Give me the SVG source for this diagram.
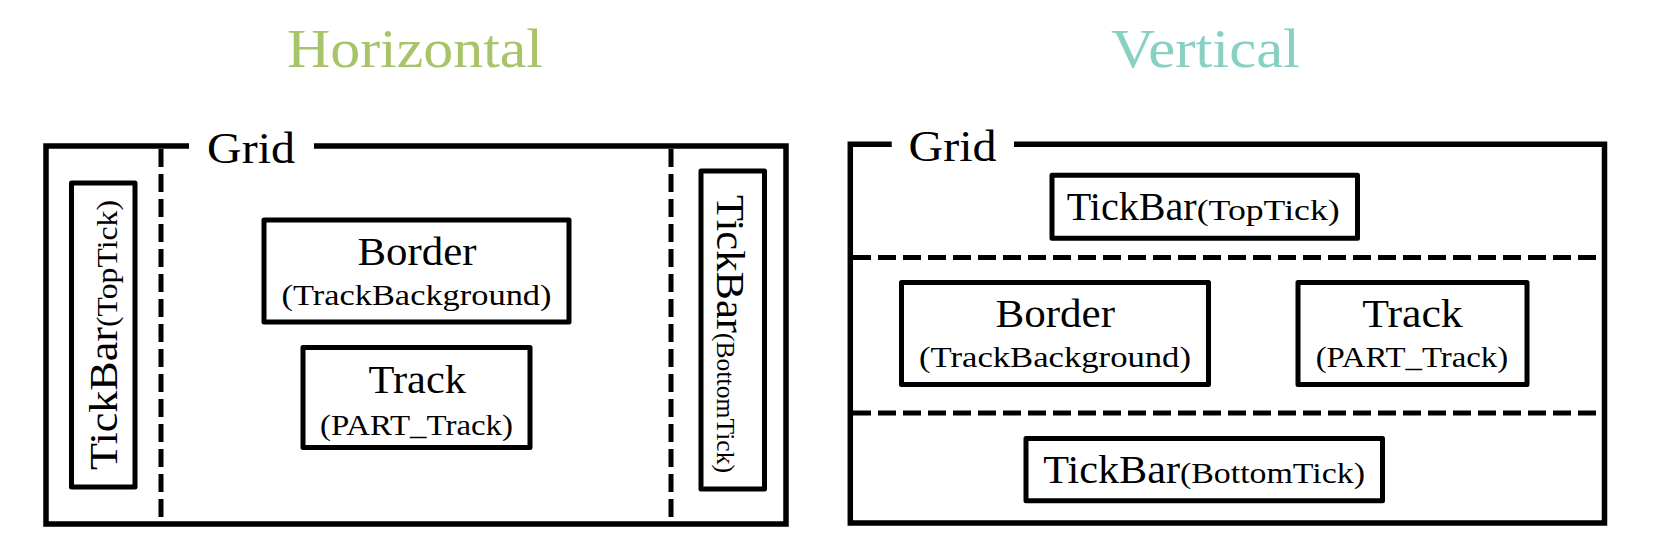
<svg xmlns="http://www.w3.org/2000/svg" width="1659" height="543" viewBox="0 0 1659 543">
<style>
text{font-family:"Liberation Serif","DejaVu Serif",serif;fill:#000}
.title{font-size:54px}
.grid{font-size:44px}
.big{font-size:40px}
.small{font-size:30px}
.frame{fill:none;stroke:#000;stroke-width:5.5;stroke-linejoin:miter}
.box{fill:#fff;stroke:#000;stroke-width:5;stroke-linejoin:round}
.dash{fill:none;stroke:#000;stroke-width:5;stroke-dasharray:18 7}
</style>
<rect width="1659" height="543" fill="#fff"/>

<g id="horizontal">
  <text class="title" x="287" y="66.7" textLength="256" lengthAdjust="spacingAndGlyphs" fill="#a8c468" style="fill:#a8c468">Horizontal</text>
  <g id="h-grid">
    <path class="frame" d="M189,146 H46 V524 H786 V146 H314"/>
    <text class="grid" x="207" y="163" textLength="88" lengthAdjust="spacingAndGlyphs">Grid</text>
  </g>
  <g id="h-dividers">
    <line class="dash" x1="161" y1="149" x2="161" y2="521"/>
    <line class="dash" x1="671" y1="149" x2="671" y2="521"/>
  </g>
  <g id="h-toptick">
    <rect class="box" x="71.5" y="183" width="63.5" height="304"/>
    <g transform="translate(117,470) rotate(-90)">
      <text class="big" x="0" y="0" textLength="143" lengthAdjust="spacingAndGlyphs">TickBar</text>
      <text x="143" y="0" font-size="29" textLength="127" lengthAdjust="spacingAndGlyphs">(TopTick)</text>
    </g>
  </g>
  <g id="h-border">
    <rect class="box" x="264" y="220" width="305" height="102"/>
    <text class="big" x="357.5" y="265" textLength="119" lengthAdjust="spacingAndGlyphs">Border</text>
    <text class="small" x="281.5" y="305" textLength="270" lengthAdjust="spacingAndGlyphs">(TrackBackground)</text>
  </g>
  <g id="h-track">
    <rect class="box" x="303" y="347.5" width="227" height="100"/>
    <text class="big" x="368.5" y="392.5" textLength="97.5" lengthAdjust="spacingAndGlyphs">Track</text>
    <text class="small" x="320" y="435" textLength="193" lengthAdjust="spacingAndGlyphs">(PART_Track)</text>
  </g>
  <g id="h-bottomtick">
    <rect class="box" x="701" y="171" width="63.5" height="318"/>
    <g transform="translate(716.7,195) rotate(90)">
      <text class="big" x="0" y="0" textLength="138" lengthAdjust="spacingAndGlyphs">TickBar</text>
      <text x="138" y="0" font-size="25" textLength="140" lengthAdjust="spacingAndGlyphs">(BottomTick)</text>
    </g>
  </g>
</g>

<g id="vertical">
  <text class="title" x="1111" y="66.7" textLength="189" lengthAdjust="spacingAndGlyphs" style="fill:#88d0c3">Vertical</text>
  <g id="v-grid">
    <path class="frame" d="M891.7,144.3 H850.3 V523 H1604.5 V144.3 H1014"/>
    <text class="grid" x="908.5" y="160.7" textLength="88" lengthAdjust="spacingAndGlyphs">Grid</text>
  </g>
  <g id="v-dividers">
    <line class="dash" x1="853" y1="257.5" x2="1602" y2="257.5"/>
    <line class="dash" x1="853" y1="413" x2="1602" y2="413"/>
  </g>
  <g id="v-toptick">
    <rect class="box" x="1052" y="175.2" width="305.5" height="63"/>
    <text class="big" x="1066.7" y="220" textLength="130" lengthAdjust="spacingAndGlyphs">TickBar</text>
    <text class="small" x="1196.7" y="220" textLength="143" lengthAdjust="spacingAndGlyphs">(TopTick)</text>
  </g>
  <g id="v-border">
    <rect class="box" x="901.5" y="282.5" width="307" height="102"/>
    <text class="big" x="995.5" y="327.3" textLength="119.5" lengthAdjust="spacingAndGlyphs">Border</text>
    <text class="small" x="919" y="366.7" textLength="272" lengthAdjust="spacingAndGlyphs">(TrackBackground)</text>
  </g>
  <g id="v-track">
    <rect class="box" x="1298" y="282.5" width="229" height="102"/>
    <text class="big" x="1362.2" y="327.3" textLength="100.5" lengthAdjust="spacingAndGlyphs">Track</text>
    <text class="small" x="1315.7" y="366.7" textLength="192.5" lengthAdjust="spacingAndGlyphs">(PART_Track)</text>
  </g>
  <g id="v-bottomtick">
    <rect class="box" x="1026" y="438.5" width="356.5" height="62.3"/>
    <text class="big" x="1043.3" y="482.7" textLength="136.7" lengthAdjust="spacingAndGlyphs">TickBar</text>
    <text class="small" x="1180" y="482.7" textLength="185" lengthAdjust="spacingAndGlyphs">(BottomTick)</text>
  </g>
</g>
</svg>
